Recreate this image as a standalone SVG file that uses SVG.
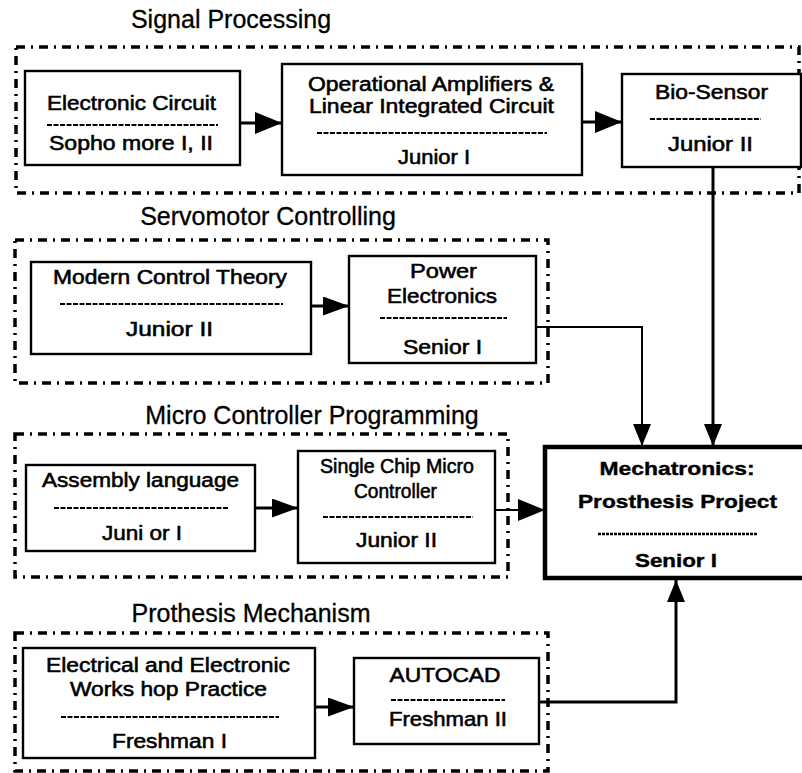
<svg xmlns="http://www.w3.org/2000/svg" width="802" height="773" viewBox="0 0 802 773">
  <style>
    .cluster { fill: none; stroke: #000; stroke-width: 3.5; stroke-dasharray: 9 6 2 6; }
    .title { font-family: "Liberation Sans", Arial, sans-serif; font-size: 25px; text-anchor: middle; fill: #000; stroke: #000; stroke-width: 0.3; }
    .box { fill: #fff; stroke: #000; stroke-width: 2.4; }
    .box-main { fill: #fff; stroke: #000; stroke-width: 4.5; }
    .t { font-family: "Liberation Sans", Arial, sans-serif; font-size: 19.5px; text-anchor: middle; fill: #000; stroke: #000; stroke-width: 0.55; }
    .tb { font-family: "Liberation Sans", Arial, sans-serif; font-size: 19px; font-weight: bold; text-anchor: middle; fill: #000; stroke: #000; stroke-width: 0.4; }
    .sep { stroke: #000; stroke-width: 2; stroke-dasharray: 5 1.5; }
    .sep-main { stroke: #000; stroke-width: 2.4; stroke-dasharray: 3 1; }
    .wire { fill: none; stroke: #000; }
  </style>
  <defs>
    <marker id="arrowL" markerUnits="userSpaceOnUse" markerWidth="27" markerHeight="22" refX="27" refY="11" orient="auto">
      <path d="M0,0 L27,11 L0,22 z" fill="#000"/>
    </marker>
    <marker id="arrowM" markerUnits="userSpaceOnUse" markerWidth="26" markerHeight="19" refX="26" refY="9.5" orient="auto">
      <path d="M0,0 L26,9.5 L0,19 z" fill="#000"/>
    </marker>
    <marker id="arrowS" markerUnits="userSpaceOnUse" markerWidth="22" markerHeight="18" refX="22" refY="9" orient="auto">
      <path d="M0,0 L22,9 L0,18 z" fill="#000"/>
    </marker>
  </defs>

  <rect width="802" height="773" fill="#fff"/>

  <!-- course clusters -->
  <g id="cluster-signal">
    <text class="title" x="231" y="28">Signal Processing</text>
    <rect class="cluster" x="16" y="47" width="783" height="146"/>
  </g>
  <g id="cluster-servo">
    <text class="title" x="268" y="225">Servomotor Controlling</text>
    <rect class="cluster" x="15" y="240" width="533" height="143"/>
  </g>
  <g id="cluster-micro">
    <text class="title" x="312" y="424">Micro Controller Programming</text>
    <rect class="cluster" x="15" y="434" width="493" height="143"/>
  </g>
  <g id="cluster-prothesis">
    <text class="title" x="251" y="622">Prothesis Mechanism</text>
    <rect class="cluster" x="15" y="633" width="533" height="138"/>
  </g>

  <!-- connectors -->
  <g id="connectors">
    <path class="wire" stroke-width="3" d="M240,123 H282" marker-end="url(#arrowL)"/>
    <path class="wire" stroke-width="3" d="M582,122 H622" marker-end="url(#arrowL)"/>
    <path class="wire" stroke-width="3" d="M311,306 H349" marker-end="url(#arrowM)"/>
    <path class="wire" stroke-width="2" d="M533,327 H642 V446" marker-end="url(#arrowS)"/>
    <path class="wire" stroke-width="3" d="M713,167 V446" marker-end="url(#arrowS)"/>
    <path class="wire" stroke-width="3" d="M255,508 H298" marker-end="url(#arrowM)"/>
    <path class="wire" stroke-width="2" d="M495,510 H545" marker-end="url(#arrowL)"/>
    <path class="wire" stroke-width="3" d="M315,707 H354" marker-end="url(#arrowM)"/>
    <path class="wire" stroke-width="3" d="M539,702 H676 V580" marker-end="url(#arrowS)"/>
  </g>

  <!-- course nodes -->
  <g id="electronic-circuit">
    <rect class="box" x="25" y="71" width="215" height="94"/>
    <text class="t" x="131.5" y="110" textLength="169" lengthAdjust="spacingAndGlyphs">Electronic Circuit</text>
    <line class="sep" x1="47" y1="125" x2="218" y2="125"/>
    <text class="t" x="131" y="150" textLength="164" lengthAdjust="spacingAndGlyphs">Sopho more  I, II</text>
  </g>
  <g id="op-amps">
    <rect class="box" x="282" y="64" width="300" height="111"/>
    <text class="t" x="431" y="91" textLength="246" lengthAdjust="spacingAndGlyphs">Operational Amplifiers &amp;</text>
    <text class="t" x="431.5" y="113" textLength="245" lengthAdjust="spacingAndGlyphs">Linear Integrated Circuit</text>
    <line class="sep" x1="317" y1="133" x2="547" y2="133"/>
    <text class="t" x="434" y="164" textLength="72" lengthAdjust="spacingAndGlyphs">Junior  I</text>
  </g>
  <g id="bio-sensor">
    <rect class="box" x="622" y="74" width="179" height="93"/>
    <text class="t" x="711.5" y="99" textLength="113" lengthAdjust="spacingAndGlyphs">Bio-Sensor</text>
    <line class="sep" x1="650" y1="119" x2="761" y2="119"/>
    <text class="t" x="710.5" y="151" textLength="85" lengthAdjust="spacingAndGlyphs">Junior  II</text>
  </g>
  <g id="modern-control">
    <rect class="box" x="31" y="262" width="280" height="92"/>
    <text class="t" x="170" y="284" textLength="234" lengthAdjust="spacingAndGlyphs">Modern Control Theory</text>
    <line class="sep" x1="60" y1="304" x2="283" y2="304"/>
    <text class="t" x="169.5" y="336" textLength="87" lengthAdjust="spacingAndGlyphs">Junior  II</text>
  </g>
  <g id="power-electronics">
    <rect class="box" x="349" y="256" width="187" height="107"/>
    <text class="t" x="443.5" y="278" textLength="67" lengthAdjust="spacingAndGlyphs">Power</text>
    <text class="t" x="442" y="303" textLength="110" lengthAdjust="spacingAndGlyphs">Electronics</text>
    <line class="sep" x1="380" y1="318" x2="507" y2="318"/>
    <text class="t" x="442.5" y="354" textLength="79" lengthAdjust="spacingAndGlyphs">Senior I</text>
  </g>
  <g id="assembly-language">
    <rect class="box" x="26" y="465" width="229" height="86"/>
    <text class="t" x="140.5" y="487" textLength="197" lengthAdjust="spacingAndGlyphs">Assembly language</text>
    <line class="sep" x1="54" y1="508" x2="229" y2="508"/>
    <text class="t" x="142" y="540" textLength="80" lengthAdjust="spacingAndGlyphs">Juni or I</text>
  </g>
  <g id="single-chip">
    <rect class="box" x="298" y="451" width="197" height="112"/>
    <text class="t" x="397" y="473" textLength="154" lengthAdjust="spacingAndGlyphs">Single Chip Micro</text>
    <text class="t" x="395.5" y="498" textLength="83" lengthAdjust="spacingAndGlyphs">Controller</text>
    <line class="sep" x1="323" y1="517" x2="473" y2="517"/>
    <text class="t" x="396.5" y="547" textLength="81" lengthAdjust="spacingAndGlyphs">Junior II</text>
  </g>
  <g id="mechatronics">
    <rect class="box-main" x="545" y="447" width="266" height="131"/>
    <text class="tb" x="677" y="475" textLength="155" lengthAdjust="spacingAndGlyphs">Mechatronics:</text>
    <text class="tb" x="677.5" y="508" textLength="199" lengthAdjust="spacingAndGlyphs">Prosthesis Project</text>
    <line class="sep-main" x1="598" y1="534" x2="757" y2="534"/>
    <text class="tb" x="676" y="567" textLength="82" lengthAdjust="spacingAndGlyphs">Senior I</text>
  </g>
  <g id="workshop-practice">
    <rect class="box" x="23" y="648" width="292" height="110"/>
    <text class="t" x="168" y="672" textLength="244" lengthAdjust="spacingAndGlyphs">Electrical and Electronic</text>
    <text class="t" x="168.5" y="696" textLength="197" lengthAdjust="spacingAndGlyphs">Works hop Practice</text>
    <line class="sep" x1="61" y1="717" x2="279" y2="717"/>
    <text class="t" x="169.5" y="748" textLength="115" lengthAdjust="spacingAndGlyphs">Freshman I</text>
  </g>
  <g id="autocad">
    <rect class="box" x="354" y="658" width="185" height="86"/>
    <text class="t" x="445" y="682" textLength="111" lengthAdjust="spacingAndGlyphs">AUTOCAD</text>
    <line class="sep" x1="391" y1="700" x2="505" y2="700"/>
    <text class="t" x="448" y="726" textLength="118" lengthAdjust="spacingAndGlyphs">Freshman II</text>
  </g>
</svg>
